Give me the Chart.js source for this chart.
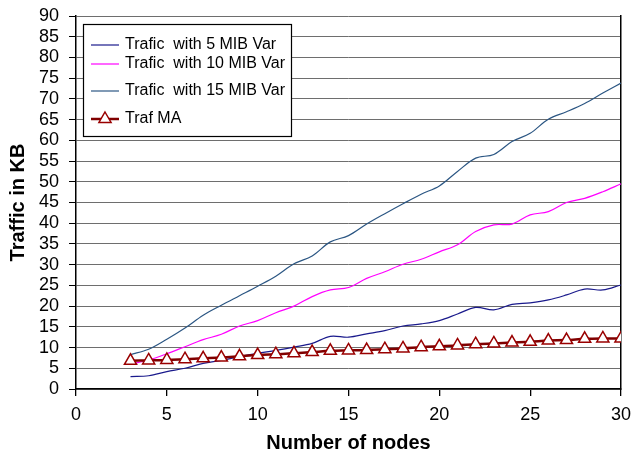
<!DOCTYPE html>
<html>
<head>
<meta charset="utf-8">
<script src="https://cdn.jsdelivr.net/npm/chart.js@4/dist/chart.umd.min.js"></script>
<style>
  body { margin: 0; background: #fff; }
  #wrap { width: 633px; height: 455px; }
</style>
</head>
<body>
<div id="wrap"><canvas id="lineChart"></canvas></div>
<script>
// data
const nodes = [3, 4, 5, 6, 7, 8, 9, 10, 11, 12, 13, 14, 15, 16, 17, 18, 19, 20, 21, 22, 23, 24, 25, 26, 27, 28, 29, 30];
const trafic5 = [3.0, 3.2, 4.2, 5.0, 6.2, 6.9, 7.8, 8.6, 9.3, 10.1, 11.0, 12.7, 12.5, 13.3, 14.1, 15.2, 15.7, 16.5, 18.1, 19.7, 19.1, 20.4, 20.8, 21.5, 22.7, 24.1, 23.9, 25.1];
const trafic10 = [6.0, 7.0, 8.5, 10.2, 11.9, 13.2, 15.2, 16.5, 18.4, 20.0, 22.3, 23.9, 24.5, 26.7, 28.3, 30.1, 31.3, 33.1, 34.8, 38.0, 39.6, 39.8, 42.0, 42.8, 45.0, 46.0, 47.6, 49.5];
const trafic15 = [8.3, 9.6, 12.0, 14.7, 17.8, 20.2, 22.5, 24.8, 27.2, 30.2, 32.1, 35.5, 37.0, 39.8, 42.3, 44.7, 47.0, 49.0, 52.5, 55.7, 56.6, 59.7, 61.7, 65.1, 66.9, 68.9, 71.4, 73.8];
const trafMA = [6.8, 6.9, 7.0, 7.2, 7.4, 7.6, 7.9, 8.2, 8.4, 8.6, 8.9, 9.2, 9.3, 9.4, 9.6, 9.8, 10.1, 10.3, 10.5, 10.8, 11.0, 11.2, 11.4, 11.7, 11.8, 12.1, 12.2, 12.2];
const xTicks = [0, 5, 10, 15, 20, 25, 30];
const yTicks = [0, 5, 10, 15, 20, 25, 30, 35, 40, 45, 50, 55, 60, 65, 70, 75, 80, 85, 90];
const seriesNames = ['Trafic  with 5 MIB Var', 'Trafic  with 10 MIB Var', 'Trafic  with 15 MIB Var', 'Traf MA'];

function points(vals) {
  return nodes.map(function(n, i) { return {x: n, y: vals[i]}; });
}

// legend drawn inside the plot, like the excel one
const legendRows = [45, 64, 91, 119];
const legendBox = {
  id: 'legendBox',
  afterDatasetsDraw(chart) {
    const ctx = chart.ctx;
    ctx.save();
    ctx.fillStyle = '#fff';
    ctx.fillRect(83, 24, 208, 112);
    ctx.strokeStyle = '#000';
    ctx.lineWidth = 1.2;
    ctx.strokeRect(83.5, 24.5, 208, 112);
    ctx.font = '16px "Liberation Sans", Arial, sans-serif';
    ctx.textBaseline = 'middle';
    chart.data.datasets.forEach(function(ds, i) {
      const y = legendRows[i];
      ctx.strokeStyle = ds.borderColor;
      ctx.lineWidth = ds.borderWidth;
      ctx.beginPath();
      ctx.moveTo(91, y);
      ctx.lineTo(119, y);
      ctx.stroke();
      if (ds.pointRadius > 0) {
        const r = ds.pointRadius;
        ctx.fillStyle = ds.pointBackgroundColor;
        ctx.strokeStyle = ds.pointBorderColor;
        ctx.lineWidth = ds.pointBorderWidth;
        ctx.beginPath();
        ctx.moveTo(105, y - r);
        ctx.lineTo(105 + r * 0.866, y + r * 0.5);
        ctx.lineTo(105 - r * 0.866, y + r * 0.5);
        ctx.closePath();
        ctx.fill();
        ctx.stroke();
      }
      ctx.fillStyle = '#000';
      ctx.fillText(ds.label, 125, y);
    });
    ctx.restore();
  }
};

const tickFont = { family: '"Liberation Sans", Arial, sans-serif', size: 18 };
const titleFont = { family: '"Liberation Sans", Arial, sans-serif', size: 20, weight: 'bold' };

function noPad(axis) {
  axis.paddingLeft = 0;
  axis.paddingRight = 0;
  axis.paddingTop = 0;
  axis.paddingBottom = 0;
}

const area = document.getElementById('lineChart');
const lineChart = new Chart(area, {
  type: 'line',
  data: {
    datasets: [
      {
        label: seriesNames[0],
        data: points(trafic5),
        borderColor: '#1a1a8c',
        borderWidth: 1.2,
        pointRadius: 0,
        tension: 0.35,
        order: 4
      },
      {
        label: seriesNames[1],
        data: points(trafic10),
        borderColor: '#ff00ff',
        borderWidth: 1.2,
        pointRadius: 0,
        tension: 0.35,
        order: 3
      },
      {
        label: seriesNames[2],
        data: points(trafic15),
        borderColor: '#2b5683',
        borderWidth: 1.2,
        pointRadius: 0,
        tension: 0.35,
        order: 2
      },
      {
        label: seriesNames[3],
        data: points(trafMA),
        borderColor: '#800000',
        borderWidth: 2.5,
        pointStyle: 'triangle',
        pointRadius: 7,
        pointBackgroundColor: '#fff',
        pointBorderColor: '#990000',
        pointBorderWidth: 1.5,
        tension: 0.35,
        order: 1
      }
    ]
  },
  options: {
    responsive: true,
    maintainAspectRatio: false,
    animation: false,
    devicePixelRatio: 1,
    layout: { padding: { top: 16, right: 0, bottom: 0, left: 0 } },
    plugins: {
      legend: { display: false },
      tooltip: { enabled: false }
    },
    scales: {
      x: {
        type: 'linear',
        min: 0,
        max: 30,
        afterBuildTicks: function(axis) { axis.ticks = xTicks.map(function(v) { return {value: v}; }); },
        afterFit: function(axis) { axis.height = 66; noPad(axis); },
        ticks: { font: tickFont, color: '#000', padding: 8, maxRotation: 0, autoSkip: false },
        grid: { drawOnChartArea: false, drawTicks: true, tickLength: 7, tickColor: '#000', lineWidth: 1.3 },
        border: { color: '#000', width: 1.5 },
        title: { display: true, text: 'Number of nodes', font: titleFont, color: '#000', padding: { top: 0, bottom: 0 } }
      },
      y: {
        min: 0,
        max: 90,
        afterBuildTicks: function(axis) { axis.ticks = yTicks.map(function(v) { return {value: v}; }); },
        afterFit: function(axis) { axis.width = 76; noPad(axis); },
        ticks: { font: tickFont, color: '#000', padding: 10, autoSkip: false },
        grid: { color: '#6e6e6e', lineWidth: 1, tickLength: 7, tickColor: '#000' },
        border: { color: '#000', width: 1.5 },
        title: { display: true, text: 'Traffic in KB', font: titleFont, color: '#000', padding: { top: 6, bottom: 0 } }
      },
      y2: {
        position: 'right',
        min: 0,
        max: 90,
        afterFit: function(axis) { axis.width = 12; noPad(axis); },
        ticks: { display: false },
        grid: { drawOnChartArea: false, drawTicks: false },
        border: { color: '#000', width: 1.5 }
      }
    }
  },
  plugins: [legendBox]
});
</script>
</body>
</html>
